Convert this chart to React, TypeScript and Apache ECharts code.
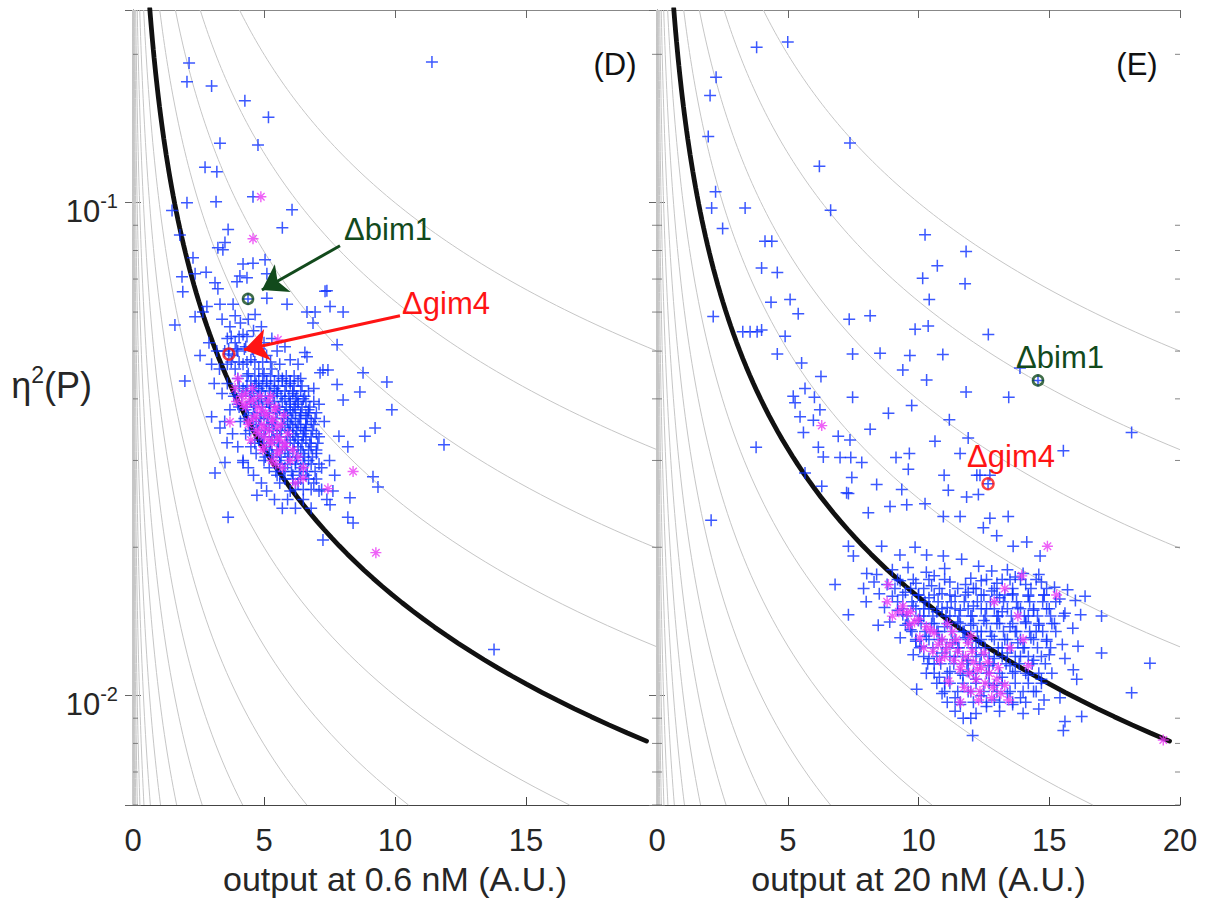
import React, { useEffect, useRef } from "react";
import * as echarts from "echarts";

const FONT = '"Liberation Sans", Arial, Helvetica, sans-serif';

// axis ranges
const X_MIN = 0;
const X_MAX = 20;
const X_INTERVAL = 5;
const Y_MIN = 0.006;
const Y_MAX = 0.246;

// iso-lines eta^2 = 10^k / output (k, step 0.2 decade)
const isoLevelExponents = [
  -5.0, -4.8, -4.6, -4.4, -4.2, -4.0, -3.8, -3.6, -3.4, -3.2, -3.0, -2.8, -2.6,
  -2.4, -2.2, -2.0, -1.8, -1.6, -1.4, -1.2, -1.0, -0.6, -0.4, -0.2, 0.0,
];
const blackLevelExponent = -0.8;
const blackCurveXRange = [0.64, 19.6];

const minorTickValues = [0.006, 0.007, 0.008, 0.009, 0.02, 0.03, 0.04, 0.05, 0.06, 0.07, 0.08, 0.09, 0.2];

// ---------- Panel D (output at 0.6 nM) ----------
const panelDBlueSparse = [
  [2.14, 0.192], [2.06, 0.176], [3.0, 0.1725], [4.27, 0.161], [5.17, 0.149], [3.32, 0.132], [4.77, 0.131],
  [2.75, 0.118], [3.2, 0.1155], [2.06, 0.1], [3.17, 0.1005], [4.58, 0.1028], [6.07, 0.0968], [1.49, 0.0964],
  [5.7, 0.089], [3.63, 0.0882], [1.79, 0.086], [3.51, 0.083], [3.24, 0.081], [3.43, 0.0803], [2.29, 0.0773],
  [4.2, 0.0751], [4.58, 0.0754], [5.04, 0.0766], [1.87, 0.0708], [2.37, 0.0718], [2.79, 0.0723], [4.08, 0.071],
  [5.11, 0.0718], [7.4, 0.0663], [3.13, 0.0688], [3.24, 0.0669], [3.97, 0.0691], [1.9, 0.066], [4.35, 0.0704],
  [5.11, 0.064], [5.88, 0.0622], [7.33, 0.0661], [7.52, 0.0616], [8.02, 0.06], [6.64, 0.06], [6.95, 0.06],
  [6.87, 0.057], [1.6, 0.0565], [2.37, 0.0587], [2.67, 0.06], [2.82, 0.0616], [3.32, 0.0622], [3.82, 0.0622],
  [4.66, 0.0593], [7.79, 0.0515], [8.78, 0.0452], [9.69, 0.0433], [9.88, 0.038], [9.24, 0.0349], [8.85, 0.0336],
  [7.86, 0.0336], [8.2, 0.032], [8.66, 0.0413], [7.79, 0.0428], [8.02, 0.0398], [7.14, 0.0452], [7.44, 0.0458],
  [6.56, 0.0497], [6.64, 0.0487], [2.56, 0.049], [1.98, 0.0435], [3.0, 0.0368], [3.32, 0.0349], [3.59, 0.0326],
  [3.13, 0.0283], [3.51, 0.0297], [4.2, 0.0297], [4.73, 0.0255], [3.63, 0.023], [7.25, 0.0207], [7.52, 0.0244],
  [8.28, 0.0252], [8.4, 0.0224], [8.2, 0.023], [9.16, 0.0278], [9.35, 0.0265], [7.63, 0.026], [11.87, 0.0323],
  [11.41, 0.193], [13.78, 0.0124], [7.25, 0.0458], [4.39, 0.0638], [3.66, 0.0493],
];
const panelDBlueCluster = [
  [3.4, 0.058], [3.7, 0.056], [3.9, 0.059], [4.1, 0.057], [4.4, 0.058], [3.6, 0.053], [3.9, 0.052], [4.2, 0.054],
  [4.6, 0.055], [4.9, 0.056], [3.5, 0.05], [3.8, 0.049], [4.0, 0.05], [4.3, 0.051], [4.6, 0.05], [5.0, 0.052],
  [5.3, 0.053], [3.6, 0.047], [3.9, 0.046], [4.2, 0.047], [4.5, 0.048], [4.8, 0.046], [5.1, 0.049], [5.5, 0.05],
  [5.8, 0.051], [3.3, 0.046], [4.0, 0.044], [4.4, 0.045], [4.7, 0.043], [5.0, 0.045], [5.3, 0.046], [5.6, 0.047],
  [6.0, 0.048], [6.3, 0.047], [3.6, 0.043], [3.9, 0.041],
  [4.2, 0.042], [4.5, 0.041], [4.8, 0.042], [5.1, 0.043], [5.4, 0.042], [5.7, 0.044], [6.0, 0.043], [6.4, 0.044],
  [4.0, 0.039], [4.3, 0.038], [4.6, 0.039], [4.9, 0.04], [5.2, 0.039], [5.5, 0.041], [5.8, 0.04], [6.1, 0.041],
  [6.5, 0.04], [4.1, 0.036], [4.4, 0.037], [4.7, 0.036], [5.0, 0.037], [5.3, 0.036], [5.6, 0.038], [5.9, 0.037],
  [6.2, 0.038], [6.6, 0.037], [4.3, 0.034], [4.6, 0.035], [4.9, 0.034], [5.2, 0.035], [5.5, 0.034], [5.8, 0.035],
  [6.1, 0.034], [6.4, 0.035], [6.8, 0.036], [4.5, 0.032], [4.8, 0.033], [5.1, 0.032], [5.4, 0.033], [5.7, 0.032],
  [6.0, 0.033], [6.3, 0.032], [6.6, 0.033], [4.7, 0.031], [5.0, 0.03], [5.3, 0.031], [5.6, 0.03], [5.9, 0.031],
  [6.2, 0.03], [6.5, 0.031], [6.8, 0.032], [5.2, 0.029], [5.5, 0.028], [5.8, 0.029], [6.1, 0.028], [6.4, 0.029],
  [6.7, 0.03], [7.0, 0.031], [5.6, 0.027], [6.0, 0.026], [6.3, 0.027], [6.6, 0.028], [6.9, 0.027], [7.2, 0.029],
  [5.9, 0.025], [6.5, 0.025], [7.1, 0.026],
  [5.9, 0.036], [6.0, 0.039], [6.2, 0.036], [6.3, 0.039], [6.4, 0.037], [6.5, 0.034], [6.1, 0.035], [6.3, 0.033],
  [6.6, 0.035], [6.7, 0.038], [6.0, 0.038], [6.2, 0.04],
  [3.2, 0.05], [3.0, 0.047], [2.9, 0.052], [3.1, 0.043], [3.4, 0.041], [3.7, 0.038], [3.5, 0.036], [3.8, 0.034],
  [4.0, 0.032], [4.2, 0.03], [4.4, 0.029], [4.6, 0.028], [4.9, 0.027], [5.1, 0.026], [5.4, 0.025], [5.7, 0.024],
  [6.2, 0.024], [6.8, 0.024], [7.4, 0.025], [7.0, 0.034], [7.3, 0.036], [7.1, 0.039], [6.9, 0.042], [7.5, 0.03],
  [7.7, 0.028],
];
const panelDBlueCore = [
  [4.35, 0.0445], [4.65, 0.0445], [4.95, 0.0445], [5.25, 0.0445], [5.55, 0.0445], [5.85, 0.0445], [6.15, 0.0445],
  [4.05, 0.0425], [4.35, 0.0425], [4.65, 0.0425], [4.95, 0.0425], [5.25, 0.0425], [5.55, 0.0425], [5.85, 0.0425],
  [6.15, 0.0425], [6.45, 0.0425],
  [3.85, 0.0405], [4.15, 0.0405], [4.45, 0.0405], [4.75, 0.0405], [5.05, 0.0405], [5.35, 0.0405], [5.65, 0.0405],
  [5.95, 0.0405], [6.25, 0.0405], [6.55, 0.0405],
  [4.05, 0.0385], [4.35, 0.0385], [4.65, 0.0385], [4.95, 0.0385], [5.25, 0.0385], [5.55, 0.0385], [5.85, 0.0385],
  [6.15, 0.0385], [6.45, 0.0385], [6.75, 0.0385],
  [4.25, 0.0365], [4.55, 0.0365], [4.85, 0.0365], [5.15, 0.0365], [5.45, 0.0365], [5.75, 0.0365], [6.05, 0.0365],
  [6.35, 0.0365], [6.65, 0.0365], [6.95, 0.0365],
  [4.45, 0.0345], [4.75, 0.0345], [5.05, 0.0345], [5.35, 0.0345], [5.65, 0.0345], [5.95, 0.0345], [6.25, 0.0345],
  [6.55, 0.0345], [6.85, 0.0345],
  [4.65, 0.0325], [4.95, 0.0325], [5.25, 0.0325], [5.55, 0.0325], [5.85, 0.0325], [6.15, 0.0325], [6.45, 0.0325],
  [6.75, 0.0325], [7.05, 0.0325],
  [5.05, 0.0305], [5.35, 0.0305], [5.65, 0.0305], [5.95, 0.0305], [6.25, 0.0305], [6.55, 0.0305], [6.85, 0.0305],
  [5.45, 0.0285], [5.75, 0.0285], [6.05, 0.0285], [6.35, 0.0285], [6.65, 0.0285], [6.95, 0.0285],
  [3.75, 0.0475], [4.05, 0.0475], [4.35, 0.0475], [4.65, 0.0475], [4.95, 0.0475], [5.25, 0.0475],
  [3.65, 0.0505], [3.95, 0.0505], [4.25, 0.0505], [4.55, 0.0505], [4.85, 0.0505],
  [3.75, 0.0535], [4.05, 0.0535], [4.35, 0.0535],
];
const panelDBlueCore2 = [
  [4.5, 0.0435], [4.8, 0.0435], [5.1, 0.0435], [5.4, 0.0435], [5.7, 0.0435], [6.0, 0.0435], [6.3, 0.0435],
  [4.3, 0.0415], [4.6, 0.0415], [4.9, 0.0415], [5.2, 0.0415], [5.5, 0.0415], [5.8, 0.0415], [6.1, 0.0415],
  [6.4, 0.0415], [6.7, 0.0415],
  [4.5, 0.0395], [4.8, 0.0395], [5.1, 0.0395], [5.4, 0.0395], [5.7, 0.0395], [6.0, 0.0395], [6.3, 0.0395],
  [6.6, 0.0395], [6.9, 0.0395],
  [4.6, 0.0375], [4.9, 0.0375], [5.2, 0.0375], [5.5, 0.0375], [5.8, 0.0375], [6.1, 0.0375], [6.4, 0.0375],
  [6.7, 0.0375], [7.0, 0.0375],
  [4.8, 0.0355], [5.1, 0.0355], [5.4, 0.0355], [5.7, 0.0355], [6.0, 0.0355], [6.3, 0.0355], [6.6, 0.0355],
  [6.9, 0.0355],
  [5.0, 0.0335], [5.3, 0.0335], [5.6, 0.0335], [5.9, 0.0335], [6.2, 0.0335], [6.5, 0.0335], [6.8, 0.0335],
  [7.1, 0.0335],
  [5.2, 0.0315], [5.5, 0.0315], [5.8, 0.0315], [6.1, 0.0315], [6.4, 0.0315], [6.7, 0.0315], [7.0, 0.0315],
  [5.6, 0.0295], [5.9, 0.0295], [6.2, 0.0295], [6.5, 0.0295], [6.8, 0.0295], [7.1, 0.0295],
  [5.8, 0.0275], [6.1, 0.0275], [6.4, 0.0275], [6.7, 0.0275], [7.0, 0.0275],
  [6.2, 0.0262], [6.5, 0.0262], [6.8, 0.0262], [7.2, 0.0262],
];
const panelDMagenta = [
  [4.0, 0.044], [4.3, 0.041], [4.6, 0.04], [4.9, 0.038], [5.1, 0.037], [5.3, 0.036], [5.0, 0.035], [5.5, 0.035],
  [5.2, 0.033], [4.7, 0.037], [5.4, 0.038], [5.6, 0.033], [4.4, 0.036], [5.8, 0.032], [5.0, 0.032], [4.8, 0.034],
  [5.3, 0.03], [5.7, 0.029], [6.0, 0.03], [4.2, 0.039], [3.9, 0.042], [5.5, 0.031], [6.2, 0.027], [4.5, 0.033],
  [5.9, 0.034], [6.5, 0.029],
  [4.45, 0.0395], [4.75, 0.0385], [5.05, 0.0375], [5.35, 0.0365], [5.65, 0.0355], [4.6, 0.0365], [4.9, 0.0355],
  [5.2, 0.0345], [5.5, 0.0335], [5.8, 0.0325], [4.3, 0.0385], [4.15, 0.0405], [4.85, 0.0405], [5.15, 0.0395],
  [5.45, 0.0385], [5.0, 0.0335], [5.3, 0.0325], [5.6, 0.0315], [4.7, 0.0345], [4.4, 0.0355], [6.1, 0.0315],
  [5.25, 0.0405], [4.55, 0.042], [5.75, 0.037], [4.95, 0.0315], [5.45, 0.0295], [6.3, 0.0305], [3.95, 0.0395],
  [4.88, 0.1028], [4.58, 0.0845], [8.4, 0.0285], [7.44, 0.0263], [9.27, 0.0195], [5.53, 0.0527], [3.7, 0.0359],
  [6.49, 0.0276],
];
const panelDBim1 = [[4.39, 0.0638]];
const panelDGim4 = [[3.66, 0.0493]];
const panelDArrowBim1 = [[7.9, 0.0818], [4.92, 0.0665]];
const panelDArrowGim4 = [[10.19, 0.059], [4.24, 0.0503]];

// ---------- Panel E (output at 20 nM) ----------
const panelEBlueSparse = [
  [3.81, 0.2066], [5.0, 0.2118], [2.26, 0.1796], [2.03, 0.165], [1.96, 0.1363], [7.38, 0.1322], [6.21, 0.1186],
  [2.24, 0.1052], [2.09, 0.0976], [3.37, 0.0976], [6.64, 0.0965], [2.51, 0.0886], [4.13, 0.0835], [4.39, 0.0835],
  [10.25, 0.0861], [11.82, 0.0796], [4.0, 0.0737], [4.6, 0.0722], [10.72, 0.0745], [10.16, 0.0703], [11.78, 0.0685],
  [10.41, 0.0636], [2.15, 0.0588], [4.36, 0.0628], [5.09, 0.0636], [5.4, 0.0595], [7.35, 0.058], [8.15, 0.059],
  [9.87, 0.0554], [10.37, 0.0562], [12.67, 0.054], [3.28, 0.0547], [3.56, 0.0547], [3.83, 0.0547], [4.0, 0.0552],
  [4.9, 0.0536], [4.6, 0.0493], [7.48, 0.0493], [8.53, 0.0495], [9.67, 0.049], [10.93, 0.0492], [5.53, 0.0473],
  [9.4, 0.0458], [10.31, 0.0437], [6.27, 0.0444], [11.82, 0.0413], [13.45, 0.0403], [5.21, 0.0405], [5.66, 0.042],
  [6.02, 0.0403], [5.28, 0.0393], [7.48, 0.0403], [9.74, 0.0388], [8.85, 0.0374], [6.23, 0.038], [5.47, 0.0368],
  [5.98, 0.0362], [11.18, 0.0363], [8.15, 0.0347], [5.6, 0.0342], [3.79, 0.0319], [6.93, 0.0336], [7.38, 0.033],
  [10.63, 0.0328], [11.9, 0.0333], [11.59, 0.031], [6.17, 0.0319], [6.36, 0.0305], [7.0, 0.0304], [7.41, 0.0304],
  [7.83, 0.0297], [9.14, 0.0304], [9.65, 0.031], [9.61, 0.0288], [10.98, 0.028], [12.23, 0.028], [7.45, 0.0277],
  [8.4, 0.0268], [9.36, 0.0262], [11.14, 0.0261], [7.25, 0.0258], [5.66, 0.0283], [6.3, 0.0266], [2.07, 0.0227],
  [13.88, 0.0462], [18.15, 0.0342], [15.54, 0.0314], [12.35, 0.028], [12.73, 0.028], [11.84, 0.0253],
  [12.29, 0.0256], [7.32, 0.0257], [6.81, 0.0168], [7.32, 0.0146], [8.46, 0.0139], [7.32, 0.0201], [7.51, 0.0192],
  [8.02, 0.0177], [8.59, 0.0201], [9.29, 0.0193], [9.87, 0.02], [10.31, 0.0193], [10.95, 0.0192], [11.65, 0.0189],
  [7.9, 0.0165], [8.0, 0.0155], [16.37, 0.0159], [17.0, 0.0122], [18.85, 0.01163], [18.15, 0.01014],
  [16.24, 0.00907], [15.6, 0.00886], [15.54, 0.0085], [12.07, 0.0083], [11.71, 0.009], [9.93, 0.0103],
  [15.41, 0.0099], [15.92, 0.01128], [16.05, 0.0108], [17.0, 0.0145], [8.08, 0.0235], [8.91, 0.0242],
  [9.55, 0.0244], [10.25, 0.0245], [10.95, 0.0231], [11.59, 0.0231], [12.48, 0.0219], [12.73, 0.0229],
  [13.43, 0.0231], [12.99, 0.0211], [13.62, 0.0201], [14.14, 0.0205], [14.65, 0.0192], [14.57, 0.0436],
  [12.66, 0.0269],
];
const panelEBlueCluster = [
  [9.0, 0.018], [9.6, 0.0182], [10.3, 0.0178], [11.0, 0.0181], [12.3, 0.0183], [12.8, 0.0179], [13.4, 0.018],
  [14.0, 0.0177], [14.6, 0.0176], [8.4, 0.0176], [10.6, 0.0175], [13.7, 0.0174],
  [8.3, 0.017], [8.8, 0.0168], [9.3, 0.0171], [9.9, 0.0169], [10.5, 0.0167], [11.2, 0.017], [11.8, 0.0168],
  [12.4, 0.0171], [13.0, 0.0169], [13.5, 0.0172], [14.1, 0.0168], [14.7, 0.017], [15.2, 0.0166], [15.7, 0.0164],
  [12.0, 0.0173],
  [8.5, 0.0161], [9.0, 0.0159], [9.5, 0.0162], [10.0, 0.016], [10.4, 0.0158], [10.9, 0.0161], [11.4, 0.0159],
  [11.9, 0.0162], [12.5, 0.016], [13.1, 0.0158], [13.6, 0.0161], [14.2, 0.0159], [14.8, 0.016], [15.4, 0.0157],
  [16.0, 0.0156], [12.8, 0.0163],
  [8.7, 0.0151], [9.2, 0.0149], [9.8, 0.0152], [10.2, 0.015], [10.7, 0.0148], [11.1, 0.0151], [11.6, 0.0149],
  [12.1, 0.0152], [12.6, 0.015], [13.2, 0.0148], [13.8, 0.0151], [14.4, 0.0149], [15.0, 0.015], [15.6, 0.0147],
  [16.2, 0.0146], [9.4, 0.0146],
  [8.9, 0.0141], [9.5, 0.0139], [10.0, 0.0142], [10.5, 0.014], [11.0, 0.0138], [11.5, 0.0141], [12.0, 0.0139],
  [12.5, 0.0142], [13.0, 0.014], [13.5, 0.0138], [14.1, 0.0141], [14.6, 0.0139], [15.2, 0.014], [15.9, 0.0137],
  [9.7, 0.0136],
  [9.3, 0.0131], [9.9, 0.0129], [10.3, 0.0132], [10.8, 0.013], [11.3, 0.0128], [11.8, 0.0131], [12.3, 0.0129],
  [12.8, 0.0132], [13.3, 0.013], [13.8, 0.0128], [14.3, 0.0131], [14.9, 0.0129], [15.5, 0.0127], [16.1, 0.0126],
  [10.1, 0.0126],
  [9.8, 0.0121], [10.4, 0.0119], [10.9, 0.0122], [11.4, 0.012], [11.9, 0.0118], [12.4, 0.0121], [12.9, 0.0119],
  [13.4, 0.0122], [13.9, 0.012], [14.4, 0.0118], [15.0, 0.0121], [15.6, 0.0119], [10.6, 0.0116],
  [10.3, 0.0111], [10.8, 0.0109], [11.2, 0.0112], [11.7, 0.011], [12.2, 0.0108], [12.7, 0.0111], [13.2, 0.0109],
  [13.7, 0.0112], [14.2, 0.011], [14.7, 0.0108], [15.1, 0.0111], [11.0, 0.0106],
  [10.9, 0.0101], [11.4, 0.0099], [11.9, 0.0102], [12.4, 0.01], [12.9, 0.0098], [13.4, 0.0101], [13.9, 0.0099],
  [14.4, 0.0102], [14.8, 0.0098], [11.6, 0.0096], [12.6, 0.0095], [13.6, 0.0096],
  [11.4, 0.0093], [12.2, 0.0092], [13.1, 0.0093], [14.0, 0.0092], [12.0, 0.009], [14.6, 0.0094],
  [11.2, 0.0145], [11.7, 0.0135], [12.2, 0.0125], [12.7, 0.0115], [13.2, 0.0125], [13.7, 0.0135], [12.0, 0.0145],
  [13.0, 0.0145], [11.5, 0.0125], [14.0, 0.0125], [12.4, 0.0135], [12.9, 0.0105], [13.5, 0.0115], [14.2, 0.0145],
  [11.9, 0.0112], [10.7, 0.0135], [10.2, 0.0145], [14.5, 0.0135], [13.3, 0.016], [12.1, 0.0165],
];
const panelEBlueCore = [
  [9.2, 0.0155], [9.75, 0.0155], [10.25, 0.0155], [10.75, 0.0155], [11.25, 0.0155], [11.75, 0.0155], [12.25, 0.0155],
  [12.75, 0.0155], [13.25, 0.0155], [13.75, 0.0155], [14.25, 0.0155], [14.75, 0.0155], [15.25, 0.0155],
  [9.55, 0.0145], [10.05, 0.0145], [10.55, 0.0145], [11.05, 0.0145], [11.55, 0.0145], [12.05, 0.0145], [12.55, 0.0145],
  [13.05, 0.0145], [13.55, 0.0145], [14.05, 0.0145], [14.55, 0.0145], [15.05, 0.0145], [15.55, 0.0145],
  [9.75, 0.0135], [10.25, 0.0135], [10.75, 0.0135], [11.25, 0.0135], [11.75, 0.0135], [12.25, 0.0135], [12.75, 0.0135],
  [13.25, 0.0135], [13.75, 0.0135], [14.25, 0.0135], [14.75, 0.0135], [15.25, 0.0135],
  [10.05, 0.0125], [10.55, 0.0125], [11.05, 0.0125], [11.55, 0.0125], [12.05, 0.0125], [12.55, 0.0125], [13.05, 0.0125],
  [13.55, 0.0125], [14.05, 0.0125], [14.55, 0.0125], [15.05, 0.0125],
  [10.35, 0.0116], [10.85, 0.0116], [11.35, 0.0116], [11.85, 0.0116], [12.35, 0.0116], [12.85, 0.0116], [13.35, 0.0116],
  [13.85, 0.0116], [14.35, 0.0116], [14.85, 0.0116],
  [10.7, 0.0106], [11.2, 0.0106], [11.7, 0.0106], [12.2, 0.0106], [12.7, 0.0106], [13.2, 0.0106], [13.7, 0.0106],
  [14.2, 0.0106], [14.7, 0.0106],
  [11.1, 0.0097], [11.6, 0.0097], [12.1, 0.0097], [12.6, 0.0097], [13.1, 0.0097], [13.6, 0.0097], [14.1, 0.0097],
  [9.1, 0.0165], [9.7, 0.0165], [10.2, 0.0165], [10.8, 0.0165], [11.5, 0.0165], [12.2, 0.0165], [12.9, 0.0165],
  [13.6, 0.0165], [14.3, 0.0165], [14.9, 0.0165],
];
const panelEBlueCore2 = [
  [9.4, 0.015], [9.9, 0.015], [10.4, 0.015], [10.9, 0.015], [11.4, 0.015], [11.9, 0.015], [12.4, 0.015],
  [12.9, 0.015], [13.4, 0.015], [13.9, 0.015], [14.4, 0.015], [14.9, 0.015],
  [9.6, 0.014], [10.1, 0.014], [10.6, 0.014], [11.1, 0.014], [11.6, 0.014], [12.1, 0.014], [12.6, 0.014],
  [13.1, 0.014], [13.6, 0.014], [14.1, 0.014], [14.6, 0.014], [15.1, 0.014],
  [9.9, 0.013], [10.4, 0.013], [10.9, 0.013], [11.4, 0.013], [11.9, 0.013], [12.4, 0.013], [12.9, 0.013],
  [13.4, 0.013], [13.9, 0.013], [14.4, 0.013], [14.9, 0.013],
  [10.2, 0.012], [10.7, 0.012], [11.2, 0.012], [11.7, 0.012], [12.2, 0.012], [12.7, 0.012], [13.2, 0.012],
  [13.7, 0.012], [14.2, 0.012], [14.7, 0.012],
  [10.6, 0.0111], [11.1, 0.0111], [11.6, 0.0111], [12.1, 0.0111], [12.6, 0.0111], [13.1, 0.0111], [13.6, 0.0111],
  [14.1, 0.0111], [14.6, 0.0111],
  [11.0, 0.0102], [11.5, 0.0102], [12.0, 0.0102], [12.5, 0.0102], [13.0, 0.0102], [13.5, 0.0102], [14.0, 0.0102],
  [14.5, 0.0102],
  [9.4, 0.016], [10.0, 0.016], [10.6, 0.016], [11.2, 0.016], [11.8, 0.016], [12.4, 0.016], [13.0, 0.016],
  [13.6, 0.016], [14.2, 0.016], [14.8, 0.016],
  [9.2, 0.0172], [9.8, 0.0172], [10.4, 0.0172], [11.0, 0.0172], [12.6, 0.0172], [13.2, 0.0172], [13.9, 0.0172],
  [14.5, 0.0172],
];
const panelEMagenta = [
  [9.4, 0.0152], [9.7, 0.0148], [10.0, 0.0143], [10.3, 0.0138], [10.6, 0.0134], [10.9, 0.013], [11.2, 0.0127],
  [11.5, 0.0123], [11.8, 0.012], [12.1, 0.0117], [12.4, 0.0114], [12.7, 0.0111], [13.0, 0.0108], [13.3, 0.0105],
  [11.0, 0.012], [11.6, 0.0113], [12.2, 0.0108], [11.3, 0.0135], [11.9, 0.0128], [12.5, 0.0122], [12.0, 0.0102],
  [12.8, 0.0099], [10.2, 0.0125], [10.8, 0.0118], [9.0, 0.0145], [8.8, 0.0155], [13.5, 0.0125], [14.0, 0.013],
  [13.8, 0.0145], [12.9, 0.0155], [13.3, 0.0165], [14.2, 0.0115], [11.6, 0.0097], [12.3, 0.0098],
  [9.25, 0.0148], [9.85, 0.0141], [10.45, 0.0136], [10.75, 0.0127], [11.05, 0.0124], [11.35, 0.0118], [11.65, 0.0116],
  [11.95, 0.0111], [12.25, 0.0113], [12.55, 0.0106], [12.85, 0.0104], [13.15, 0.0101], [11.45, 0.013], [12.05, 0.0123],
  [12.65, 0.0117], [10.55, 0.0123], [11.15, 0.0107], [13.45, 0.0098], [12.35, 0.0102], [11.75, 0.0104],
  [10.05, 0.0131], [9.65, 0.0139], [13.05, 0.0114], [12.0, 0.0132], [11.1, 0.014],
  [6.3, 0.0353], [14.93, 0.0201], [13.95, 0.0175], [15.28, 0.016], [8.85, 0.0168], [19.36, 0.00813], [9.55, 0.0147],
];
const panelEBim1 = [[14.57, 0.0436]];
const panelEGim4 = [[12.66, 0.0269]];

// ---------- styling ----------
const BLUE = "#0a2eff";
const MAGENTA = "#ea3af5";
const GREEN = "#124a1c";
const RED = "#ff1414";
const GREY_CURVE = "#c6c6c6";
const PLUS = "path://M5,0L5,10M0,5L10,5";
const STAR = "path://M5,0L5,10M0,5L10,5M1.6,1.6L8.4,8.4M1.6,8.4L8.4,1.6";

function isoCurve(c: number, xStart?: number, xEnd?: number) {
  const a = xStart ?? c / Y_MAX;
  const b = xEnd ?? Math.min(X_MAX, c / Y_MIN);
  const pts: number[][] = [];
  const n = 90;
  for (let i = 0; i <= n; i++) {
    const x = a * Math.pow(b / a, i / n);
    pts.push([x, c / x]);
  }
  return pts;
}

function arrowLine(pts: number[][], color: string) {
  return {
    silent: true, symbol: ["none", "arrow"], symbolSize: 24, label: { show: false },
    lineStyle: { color, width: 3, type: "solid" },
    itemStyle: { color },
    data: [[{ coord: pts[0] }, { coord: pts[1] }]],
  };
}

function panelSeries(xi: number, yi: number, blue: number[][], magenta: number[][], bim1: number[][], gim4: number[][], arrows: boolean) {
  const s: any[] = [];
  isoLevelExponents.forEach((k) => {
    s.push({
      type: "line", xAxisIndex: xi, yAxisIndex: yi, data: isoCurve(Math.pow(10, k)),
      showSymbol: false, silent: true, lineStyle: { color: GREY_CURVE, width: 1 }, z: 1,
    });
  });
  s.push({
    type: "line", xAxisIndex: xi, yAxisIndex: yi,
    data: isoCurve(Math.pow(10, blackLevelExponent), blackCurveXRange[0], blackCurveXRange[1]),
    showSymbol: false, silent: true, lineStyle: { color: "#111", width: 4.8, cap: "round" }, z: 2,
  });
  s.push({
    type: "scatter", xAxisIndex: xi, yAxisIndex: yi, data: blue, symbol: PLUS, symbolSize: 12,
    itemStyle: { color: "transparent", borderColor: BLUE, borderWidth: 1.5 }, z: 3, silent: true,
  });
  s.push({
    type: "scatter", xAxisIndex: xi, yAxisIndex: yi, data: magenta, symbol: STAR, symbolSize: 11,
    itemStyle: { color: "transparent", borderColor: MAGENTA, borderWidth: 1.4 }, z: 4, silent: true,
  });
  s.push({
    type: "scatter", xAxisIndex: xi, yAxisIndex: yi, data: bim1, symbol: "circle", symbolSize: 10,
    itemStyle: { color: "transparent", borderColor: GREEN, borderWidth: 2.6 }, z: 5, silent: true,
    markLine: arrows ? arrowLine(panelDArrowBim1, GREEN) : undefined,
  });
  s.push({
    type: "scatter", xAxisIndex: xi, yAxisIndex: yi, data: gim4, symbol: "circle", symbolSize: 11,
    itemStyle: { color: "transparent", borderColor: RED, borderWidth: 2.4 }, z: 5, silent: true,
    markLine: arrows ? arrowLine(panelDArrowGim4, RED) : undefined,
  });
  // minor log ticks, left and right
  s.push({
    type: "scatter", xAxisIndex: xi, yAxisIndex: yi, data: minorTickValues.map((v) => [X_MIN, v]),
    symbol: "rect", symbolSize: [5, 1], symbolOffset: [2.5, 0], itemStyle: { color: "#666" }, clip: false, silent: true, z: 6,
  });
  s.push({
    type: "scatter", xAxisIndex: xi, yAxisIndex: yi, data: minorTickValues.map((v) => [X_MAX, v]),
    symbol: "rect", symbolSize: [5, 1], symbolOffset: [-2.5, 0], itemStyle: { color: "#666" }, clip: false, silent: true, z: 6,
  });
  return s;
}

function xAxes(gridIndex: number, title: string, hideMax: boolean) {
  return [
    {
      type: "value", gridIndex, min: X_MIN, max: X_MAX, interval: X_INTERVAL, position: "bottom",
      axisLine: { lineStyle: { color: "#444", width: 1 } },
      axisTick: { inside: true, length: 8, lineStyle: { color: "#444" } },
      axisLabel: { fontSize: 31, color: "#262626", fontFamily: FONT, margin: 20, showMaxLabel: !hideMax },
      splitLine: { show: false },
      name: title, nameLocation: "middle", nameGap: 57, nameMoveOverlap: false,
      nameTextStyle: { fontSize: 34, color: "#262626", fontFamily: FONT },
    },
    {
      type: "value", gridIndex, min: X_MIN, max: X_MAX, interval: X_INTERVAL, position: "top",
      axisLine: { lineStyle: { color: "#888", width: 1 } },
      axisTick: { inside: true, length: 8, lineStyle: { color: "#666" } },
      axisLabel: { show: false }, splitLine: { show: false },
    },
  ];
}

function yLabel(v: number) {
  const e = Math.log10(v);
  const r = Math.round(e);
  if (Math.abs(e - r) > 1e-6) return "";
  return `{b|10}{s|${r}}`;
}

function yAxes(gridIndex: number, withLabels: boolean) {
  return [
    {
      type: "log", logBase: 10, gridIndex, min: Y_MIN, max: Y_MAX, position: "left",
      axisLine: { lineStyle: { color: "#666", width: 1 } },
      axisTick: { inside: true, length: 8, lineStyle: { color: "#666" } },
      axisLabel: {
        show: withLabels, formatter: yLabel, margin: 15, padding: [17, 0, 0, 0],
        rich: {
          b: { fontSize: 31, color: "#262626", fontFamily: FONT },
          s: { fontSize: 20, color: "#262626", fontFamily: FONT, padding: [0, 0, 20, 0] },
        },
      },
      splitLine: { show: false }, minorTick: { show: false },
      name: withLabels ? "{e|η}{s|2}{p|(P)}" : "", nameLocation: "middle", nameRotate: 0, nameGap: 41,
      nameMoveOverlap: false,
      nameTextStyle: {
        align: "right",
        padding: [0, 0, 44, 0],
        rich: {
          e: { fontSize: 36, color: "#262626", fontFamily: FONT },
          s: { fontSize: 23, color: "#262626", fontFamily: FONT, padding: [0, 0, 22, 0] },
          p: { fontSize: 36, color: "#262626", fontFamily: FONT },
        },
      },
    },
    {
      type: "log", logBase: 10, gridIndex, min: Y_MIN, max: Y_MAX, position: "right",
      axisLine: { lineStyle: { color: "#888", width: 1 } },
      axisTick: { inside: true, length: 8, lineStyle: { color: "#666" } },
      axisLabel: { show: false }, splitLine: { show: false },
    },
  ];
}

function txt(text: string, x: number, y: number, color: string, size: number) {
  return {
    type: "text", x, y, silent: true, z: 100,
    style: {
      text, fill: color, font: `${size}px ${FONT}`,
      align: "center", verticalAlign: "middle", textAlign: "center", textVerticalAlign: "middle",
    },
  };
}

export default function App() {
  const ref = useRef<HTMLDivElement>(null);
  useEffect(() => {
    document.body.style.margin = "0";
    if (!ref.current) return;
    const chart = echarts.init(ref.current, undefined, { renderer: "svg" });
    const option: any = {
      animation: false,
      backgroundColor: "#ffffff",
      grid: [
        { left: 133, top: 10, width: 524, height: 795, containLabel: false, outerBoundsMode: "none" },
        { left: 657, top: 10, width: 523, height: 795, containLabel: false, outerBoundsMode: "none" },
      ],
      xAxis: [...xAxes(0, "output at 0.6 nM (A.U.)", true), ...xAxes(1, "output at 20 nM (A.U.)", false)],
      yAxis: [...yAxes(0, true), ...yAxes(1, false)],
      series: [
        ...panelSeries(0, 0, [...panelDBlueSparse, ...panelDBlueCluster, ...panelDBlueCore, ...panelDBlueCore2], panelDMagenta, panelDBim1, panelDGim4, true),
        ...panelSeries(2, 2, [...panelEBlueSparse, ...panelEBlueCluster, ...panelEBlueCore, ...panelEBlueCore2], panelEMagenta, panelEBim1, panelEGim4, false),
      ],
      graphic: [
        txt("(D)", 615, 64, "#111", 31),
        txt("(E)", 1137, 64, "#111", 31),
        txt("Δbim1", 388, 229, GREEN, 31),
        txt("Δgim4", 446, 303, RED, 31),
        txt("Δbim1", 1060, 357, GREEN, 31),
        txt("Δgim4", 1011, 456, RED, 31),
      ],
    };
    chart.setOption(option);
    return () => chart.dispose();
  }, []);
  return <div ref={ref} style={{ width: 1208, height: 901 }} />;
}
